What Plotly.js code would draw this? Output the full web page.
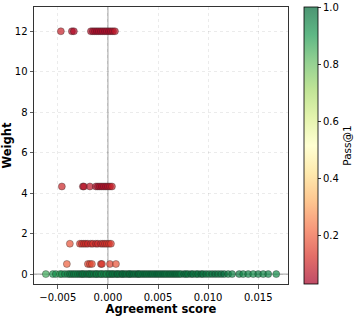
<!DOCTYPE html>
<html>
<head>
<meta charset="utf-8">
<script src="https://cdn.plot.ly/plotly-3.0.1.min.js"></script>
<style>html,body{margin:0;padding:0;background:#fff;}#chart{width:358px;height:316px;}</style>
</head>
<body>
<div id="chart"></div>
<script>
// Weight level 12
const w12Score = [-0.0047, -0.0036, -0.0034, -0.0017, -0.0015, -0.0013, -0.0011, -0.0009, -0.0007, -0.0005, -0.0003, -0.0001, 0.0001, 0.0003, 0.0005, 0.0007];
const w12Pass  = [0.09, 0.06, 0.05, 0.06, 0.05, 0.05, 0.04, 0.05, 0.04, 0.05, 0.04, 0.05, 0.04, 0.05, 0.06, 0.07];
// Weight level 4.33
const w4Score = [-0.0046, -0.0025, -0.0024, -0.0018, -0.0012, -0.0010, -0.0008, -0.0006, -0.0004, -0.0002, 0.0000, 0.0002, 0.0004];
const w4Pass  = [0.10, 0.07, 0.06, 0.07, 0.06, 0.05, 0.06, 0.05, 0.06, 0.05, 0.06, 0.07, 0.09];
// Weight level 1.5
const w15Score = [-0.0038, -0.0028, -0.0026, -0.0024, -0.0022, -0.0020, -0.0017, -0.0015, -0.0012, -0.0010, -0.0007, -0.0005, -0.0003, -0.0001, 0.0001, 0.0003];
const w15Pass  = [0.18, 0.14, 0.12, 0.11, 0.12, 0.10, 0.11, 0.12, 0.10, 0.11, 0.10, 0.12, 0.11, 0.13, 0.12, 0.14];
// Weight level 0.5
const w05Score = [-0.0041, -0.0020, -0.0018, -0.0016, -0.0007, -0.0006, 0.0002, 0.0008];
const w05Pass  = [0.20, 0.16, 0.15, 0.17, 0.12, 0.13, 0.15, 0.18];
// Weight level 0
const w0Score = [-0.0062, -0.0055, -0.0052, -0.0048, -0.0046, -0.0043, -0.0040, -0.0038, -0.0036, -0.0034, -0.0032, -0.0030, -0.0028, -0.0026, -0.0025, -0.0023, -0.0021, -0.0019, -0.0018, -0.0016, -0.0014, -0.0012, -0.0011, -0.0009, -0.0007, -0.0006, -0.0004, -0.0002, -0.0001, 0.0001, 0.0002, 0.0004, 0.0005, 0.0007, 0.0009, 0.0010, 0.0012, 0.0014, 0.0015, 0.0017, 0.0019, 0.0021, 0.0022, 0.0024, 0.0026, 0.0028, 0.0030, 0.0031, 0.0033, 0.0035, 0.0037, 0.0039, 0.0041, 0.0043, 0.0045, 0.0047, 0.0049, 0.0051, 0.0053, 0.0055, 0.0057, 0.0059, 0.0061, 0.0063, 0.0065, 0.0067, 0.0069, 0.0071, 0.0073, 0.0076, 0.0078, 0.0080, 0.0083, 0.0085, 0.0088, 0.0090, 0.0093, 0.0095, 0.0098, 0.0101, 0.0104, 0.0107, 0.0110, 0.0113, 0.0116, 0.0120, 0.0124, 0.0131, 0.0135, 0.0140, 0.0145, 0.0150, 0.0155, 0.0160, 0.0168];
const w0Pass  = [0.86, 0.90, 0.92, 0.88, 0.93, 0.95, 0.94, 0.97, 0.96, 0.98, 0.95, 0.97, 0.99, 0.96, 0.98, 0.97, 0.99, 0.95, 0.98, 0.97, 0.96, 0.98, 0.94, 0.97, 0.95, 0.93, 0.96, 0.94, 0.92, 0.95, 0.97, 0.96, 0.98, 0.97, 0.99, 0.98, 0.97, 0.99, 0.98, 1.00, 0.97, 0.99, 0.98, 1.00, 0.99, 0.98, 1.00, 0.99, 0.97, 0.99, 1.00, 0.98, 0.99, 1.00, 0.98, 0.99, 1.00, 0.99, 0.98, 1.00, 0.99, 0.97, 1.00, 0.98, 0.99, 1.00, 0.98, 0.99, 0.97, 1.00, 0.99, 0.98, 1.00, 0.99, 0.97, 0.99, 1.00, 0.98, 0.99, 0.97, 0.99, 1.00, 0.98, 0.99, 1.00, 0.97, 0.95, 0.96, 0.94, 0.95, 0.93, 0.96, 0.94, 0.95, 0.93];

const levels = [
  {w: 0, s: w0Score, p: w0Pass},
  {w: 0.5, s: w05Score, p: w05Pass},
  {w: 1.5, s: w15Score, p: w15Pass},
  {w: 4.33, s: w4Score, p: w4Pass},
  {w: 12, s: w12Score, p: w12Pass}
];
let xs = [], ys = [], cs = [];
levels.forEach(l => { l.s.forEach((v, i) => { xs.push(v); ys.push(l.w); cs.push(l.p[i]); }); });

const a = 0.7;
const rdylgn = ['#a50026','#d73027','#f46d43','#fdae61','#fee08b','#ffffbf','#d9ef8b','#a6d96a','#66bd63','#1a9850','#006837'];
function rgba(h){const r=parseInt(h.slice(1,3),16),g=parseInt(h.slice(3,5),16),b=parseInt(h.slice(5,7),16);return `rgba(${r},${g},${b},${a})`;}
const cscale = rdylgn.map((c,i)=>[i/10, rgba(c)]);

const font = {family: 'DejaVu Sans', size: 10, color: '#000'};
const trace = {
  type: 'scatter', mode: 'markers', x: xs, y: ys,
  marker: {
    size: 7, color: cs, colorscale: cscale, cmin: 0.03, cmax: 1.0,
    line: {color: 'rgba(40,40,40,0.6)', width: 0.6},
    colorbar: {
      x: 0.859, xanchor: 'left', xref: 'paper', y: 0.5, yanchor: 'middle', len: 1, lenmode: 'fraction',
      thickness: 14, outlinewidth: 0.8, outlinecolor: '#000', xpad: 0, ypad: 0,
      ticks: 'outside', ticklen: 3, tickwidth: 0.8, tickcolor: '#000',
      tickvals: [0.2, 0.4, 0.6, 0.8, 1.0], ticktext: ['0.2','0.4','0.6','0.8','1.0'],
      tickfont: font,
      title: {text: 'Pass@1', side: 'right', font: {family: 'DejaVu Sans', size: 10.5, color: '#000'}}
    }
  },
  showlegend: false, hoverinfo: 'skip'
};

const layout = {
  width: 358, height: 316,
  margin: {l: 34, r: 5, t: 7, b: 32},
  paper_bgcolor: '#fff', plot_bgcolor: '#fff',
  font: font,
  xaxis: {
    domain: [0, 0.8088],
    range: [-0.00738, 0.01797], tickvals: [-0.005, 0, 0.005, 0.01, 0.015],
    ticktext: ['\u22120.005', '0.000', '0.005', '0.010', '0.015'],
    showline: true, mirror: true, linecolor: '#333', linewidth: 1,
    ticks: 'outside', ticklen: 3.5, tickwidth: 0.8, tickcolor: '#333',
    showgrid: true, gridcolor: 'rgba(0,0,0,0.1)', griddash: 'dot', gridwidth: 0.8,
    zeroline: false, tickfont: font,
    title: {text: '<b>Agreement score</b>', font: {family: 'DejaVu Sans', size: 11.5, color: '#000'}, standoff: 1}
  },
  yaxis: {
    range: [-0.49, 13.2], tickvals: [0, 2, 4, 6, 8, 10, 12],
    showline: true, mirror: true, linecolor: '#333', linewidth: 1,
    ticks: 'outside', ticklen: 3.5, tickwidth: 0.8, tickcolor: '#333',
    showgrid: true, gridcolor: 'rgba(0,0,0,0.1)', griddash: 'dot', gridwidth: 0.8,
    zeroline: false, tickfont: font,
    title: {text: '<b>Weight</b>', font: {family: 'DejaVu Sans', size: 11.5, color: '#000'}, standoff: 5}
  },
  shapes: [
    {type: 'line', xref: 'x', yref: 'paper', x0: 0, x1: 0, y0: 0, y1: 1, line: {color: 'rgba(128,128,128,0.6)', width: 1.2}, layer: 'below'},
    {type: 'line', xref: 'x', yref: 'y', x0: -0.00738, x1: 0.01797, y0: 0, y1: 0, line: {color: 'rgba(128,128,128,0.6)', width: 1.2}, layer: 'below'}
  ]
};

Plotly.newPlot('chart', [trace], layout, {staticPlot: true, displayModeBar: false});
</script>
</body>
</html>
